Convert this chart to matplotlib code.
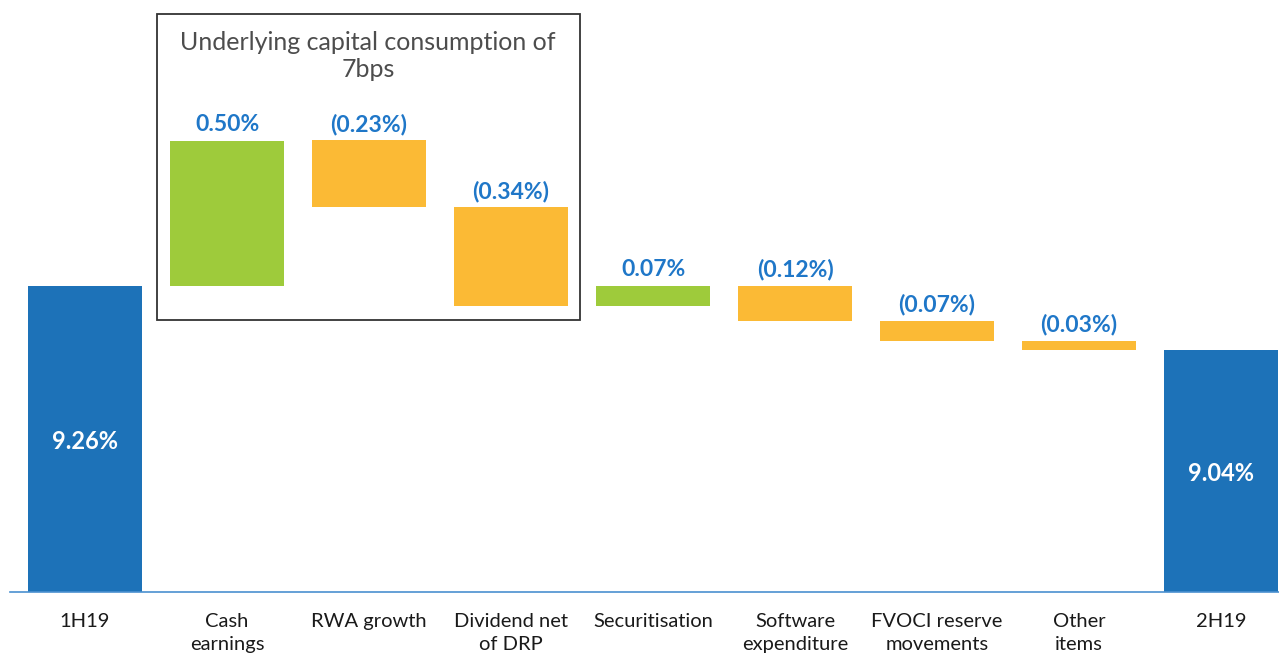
import matplotlib
matplotlib.use("Agg")
import matplotlib.pyplot as plt
import matplotlib.patches as mpatches
import numpy as np

plt.rcParams['font.family'] = ['Lato', 'DejaVu Sans']

categories = ['1H19', 'Cash\nearnings', 'RWA growth', 'Dividend net\nof DRP', 'Securitisation',
              'Software\nexpenditure', 'FVOCI reserve\nmovements', 'Other\nitems', '2H19']
start_value = 9.26
changes = [0.50, -0.23, -0.34, 0.07, -0.12, -0.07, -0.03]
end_value = 9.04
box_title = 'Underlying capital consumption of\n7bps'

BLUE = '#1D72B8'
GREEN = '#9ECB3B'
ORANGE = '#FBBA35'
LABEL_BLUE = '#1F77C8'

W, H = 1279, 657
fig = plt.figure(figsize=(W / 100, H / 100), dpi=100)
ax = fig.add_axes([10 / W, (H - 592) / H, 1 - 10 / W, 592 / H])

px_per = 291.0
ymin = start_value - 306 / px_per
ymax = ymin + 592 / px_per
ax.set_ylim(ymin, ymax)
x = np.arange(len(categories))
ax.set_xlim((10 - 85) / 142, (1279 - 85) / 142)

bw = 0.80
# totals
for xi, v in [(0, start_value), (len(categories) - 1, end_value)]:
    ax.bar(xi, v - ymin, bottom=ymin, width=bw, color=BLUE, zorder=2)
    ax.text(xi, (ymin + v) / 2 - 0.01, f'{v:.2f}%', ha='center', va='center', color='white',
            fontsize=17, fontweight='bold', zorder=3)

level = start_value
for i, c in enumerate(changes):
    xi = i + 1
    new = level + c
    lo, hi = min(level, new), max(level, new)
    ax.bar(xi, hi - lo, bottom=lo, width=bw, color=GREEN if c > 0 else ORANGE, zorder=2)
    lab = f'{c:.2f}%' if c > 0 else f'({abs(c):.2f}%)'
    ax.annotate(lab, (xi, hi), xytext=(0, 4), textcoords='offset points', ha='center',
                va='bottom', color=LABEL_BLUE, fontsize=16.5, fontweight='bold', zorder=3)
    level = new

ax.set_xticks(x)
ax.set_xticklabels(categories, fontsize=14.5, color='#1a1a1a', linespacing=1.45, va='top')
ax.tick_params(axis='x', length=0, pad=15)
ax.set_yticks([])
for s in ['top', 'right', 'left']:
    ax.spines[s].set_visible(False)
ax.spines['bottom'].set_color('#4A90D0')
ax.spines['bottom'].set_linewidth(1.2)
ax.patch.set_alpha(0)

# box
rect = mpatches.Rectangle((157 / W, 1 - 320 / H), (580 - 157) / W, (320 - 14) / H,
                          transform=fig.transFigure, fill=False, edgecolor='#333333',
                          linewidth=1.3, zorder=5)
fig.patches.append(rect)
fig.text(368 / W, 1 - 56 / H, box_title, ha='center', va='center', fontsize=18,
         color='#4d4d4d', linespacing=1.2)

fig.savefig('out.png', dpi=100)
